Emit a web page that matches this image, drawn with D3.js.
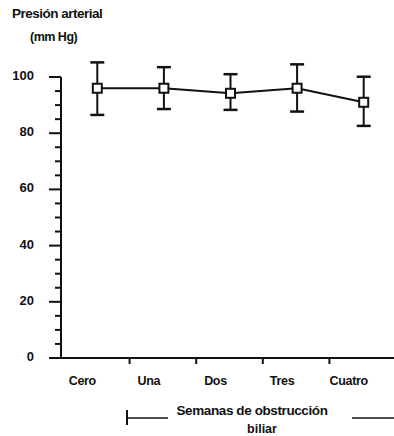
<!DOCTYPE html>
<html>
<head>
<meta charset="utf-8">
<script src="https://cdn.jsdelivr.net/npm/d3@7"></script>
<style>
  body { margin: 0; background: #fff; }
  text { font-family: "Liberation Sans", Arial, sans-serif; font-weight: bold; fill: #111; }
</style>
</head>
<body>
<svg id="chart" width="394" height="436"></svg>
<script>
const weeks = ['Cero', 'Una', 'Dos', 'Tres', 'Cuatro'];
const meanPressure = [96, 96, 94.2, 96, 91];
const upperPressure = [105.2, 103.5, 101, 104.5, 100.1];
const lowerPressure = [86.5, 88.6, 88.3, 87.7, 82.6];
const yTicks = [0, 20, 40, 60, 80, 100];

const svg = d3.select('#chart');
const margin = { left: 61, right: 0, top: 77, bottom: 78 };
const width = 394, height = 436;

const x = d3.scaleBand()
  .domain(weeks)
  .range([64, 397]);

const y = d3.scaleLinear()
  .domain([0, 100])
  .range([358, 77]);

// y axis: major ticks every 20, minor every 5
svg.append('line')
  .attr('x1', margin.left).attr('x2', margin.left)
  .attr('y1', y(100)).attr('y2', y(0) + 1)
  .attr('stroke', '#111').attr('stroke-width', 2);

svg.append('g')
  .selectAll('line')
  .data(d3.range(0, 101, 5))
  .join('line')
    .attr('x1', d => d % 20 === 0 ? margin.left - 12 : margin.left - 6)
    .attr('x2', margin.left)
    .attr('y1', d => y(d)).attr('y2', d => y(d))
    .attr('stroke', '#111').attr('stroke-width', 2);

svg.append('g')
  .selectAll('text')
  .data(yTicks)
  .join('text')
    .attr('x', margin.left - 27)
    .attr('y', d => y(d) + 3)
    .attr('text-anchor', 'end')
    .attr('font-size', 13)
    .text(d => d);

// x axis
svg.append('line')
  .attr('x1', margin.left).attr('x2', width)
  .attr('y1', y(0)).attr('y2', y(0))
  .attr('stroke', '#111').attr('stroke-width', 2);

svg.append('g')
  .selectAll('line')
  .data(weeks.slice(1))
  .join('line')
    .attr('x1', d => x(d) - 1).attr('x2', d => x(d) - 1)
    .attr('y1', y(0)).attr('y2', y(0) + 6)
    .attr('stroke', '#111').attr('stroke-width', 2);

svg.append('g')
  .selectAll('text')
  .data(weeks)
  .join('text')
    .attr('x', d => x(d) + x.bandwidth() / 2 - 15)
    .attr('y', 385)
    .attr('text-anchor', 'middle')
    .attr('font-size', 12.5)
    .attr('letter-spacing', -0.3)
    .text(d => d);

// error bars
const cx = d => x(d) + x.bandwidth() / 2;
const bars = svg.append('g');
weeks.forEach((w, i) => {
  bars.append('line')
    .attr('x1', cx(w)).attr('x2', cx(w))
    .attr('y1', y(upperPressure[i])).attr('y2', y(lowerPressure[i]))
    .attr('stroke', '#111').attr('stroke-width', 2);
  [upperPressure[i], lowerPressure[i]].forEach(v => {
    bars.append('line')
      .attr('x1', cx(w) - 7).attr('x2', cx(w) + 7)
      .attr('y1', y(v)).attr('y2', y(v))
      .attr('stroke', '#111').attr('stroke-width', 2.5);
  });
});

// mean line
const line = d3.line()
  .x((d, i) => cx(weeks[i]))
  .y(d => y(d));

svg.append('path')
  .attr('d', line(meanPressure))
  .attr('fill', 'none')
  .attr('stroke', '#111')
  .attr('stroke-width', 2);

svg.append('g')
  .selectAll('rect')
  .data(meanPressure)
  .join('rect')
    .attr('x', (d, i) => cx(weeks[i]) - 4.5)
    .attr('y', d => y(d) - 4.5)
    .attr('width', 9).attr('height', 9)
    .attr('fill', '#fff')
    .attr('stroke', '#111')
    .attr('stroke-width', 2);

// titles
svg.append('text')
  .attr('x', 12).attr('y', 18)
  .attr('font-size', 13.5)
  .attr('letter-spacing', -0.5)
  .text('Presión arterial');

svg.append('text')
  .attr('x', 30).attr('y', 41)
  .attr('font-size', 12.5)
  .attr('letter-spacing', -0.5)
  .text('(mm Hg)');

svg.append('text')
  .attr('x', 252).attr('y', 415)
  .attr('text-anchor', 'middle')
  .attr('font-size', 13.5)
  .attr('letter-spacing', -0.4)
  .text('Semanas de obstrucción');

svg.append('text')
  .attr('x', 262).attr('y', 433)
  .attr('text-anchor', 'middle')
  .attr('font-size', 12.5)
  .text('biliar');

// bracket
svg.append('line')
  .attr('x1', 127).attr('x2', 127).attr('y1', 410).attr('y2', 425)
  .attr('stroke', '#111').attr('stroke-width', 2);
svg.append('line')
  .attr('x1', 127).attr('x2', 168).attr('y1', 418).attr('y2', 418)
  .attr('stroke', '#111').attr('stroke-width', 1.5);
svg.append('line')
  .attr('x1', 352).attr('x2', 394).attr('y1', 418).attr('y2', 418)
  .attr('stroke', '#111').attr('stroke-width', 1.5);
</script>
</body>
</html>
